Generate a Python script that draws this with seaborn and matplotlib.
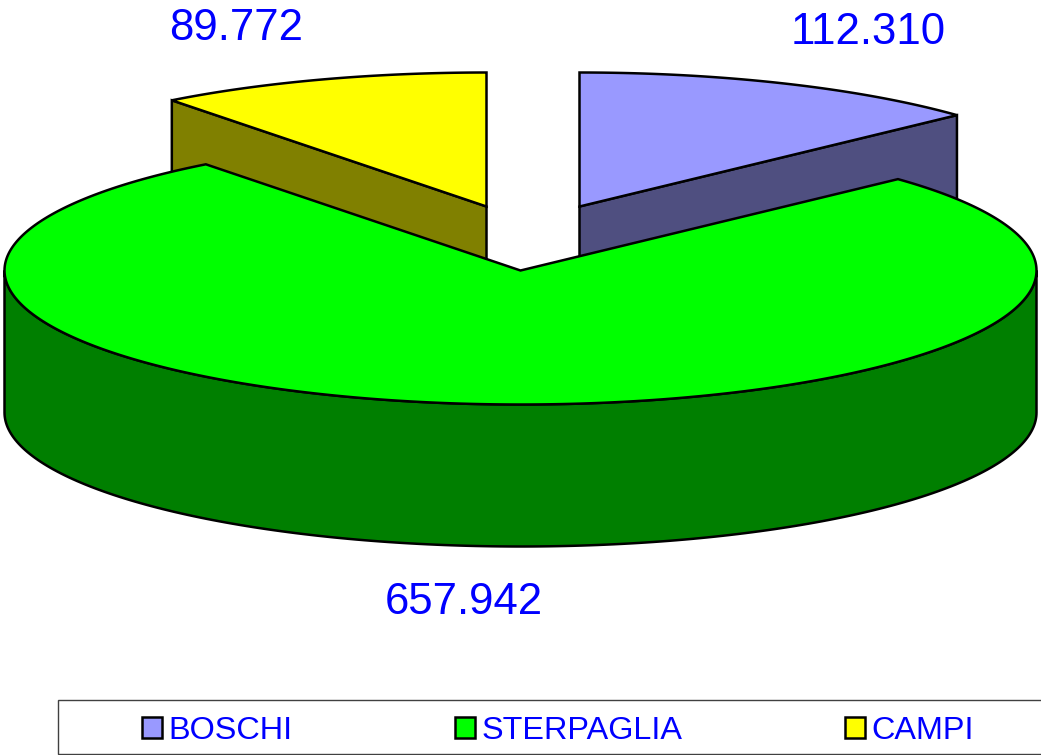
import numpy as np
import seaborn as sns
import matplotlib.pyplot as plt
from matplotlib.patches import Polygon, Rectangle

labels = ["BOSCHI", "STERPAGLIA", "CAMPI"]
values = [112.310, 657.942, 89.772]
top_colors = ["#9999FF", "#00FF00", "#FFFF00"]
side_colors = ["#4F4F80", "#007F00", "#808000"]

# pie geometry in image pixels
centers = [(579.5, 206.5), (520.5, 270.5), (486.5, 206.5)]
label_pos = [(868, 32), (464, 602), (236, 28)]
rx, ry = 516, 134
depth = 142
line = 1.8


def arc(center, a0, a1, n=200):
    # angles clockwise from 12 o'clock, tilted disc
    t = np.radians(np.linspace(a0, a1, n))
    return np.column_stack([center[0] + rx * np.sin(t), center[1] - ry * np.cos(t)])


def shift(pts):
    return pts + np.array([0, depth])


sns.set_style("white")
plt.rcParams["font.family"] = ["Liberation Sans"]
palette = sns.color_palette(top_colors)

fig = plt.figure(figsize=(10.41, 7.55), dpi=100)
ax = fig.add_axes([0, 0, 1, 1])
ax.set_xlim(0, 1041)
ax.set_ylim(755, 0)
ax.axis("off")

ends = np.cumsum(values) / np.sum(values) * 360
starts = np.concatenate([[0], ends[:-1]])

# back slices first, the big one covers them
for i in [0, 2]:
    c = np.array(centers[i], dtype=float)
    cut = ends[i] if i == 0 else starts[i]
    edge = arc(c, cut, cut, 1)[0]
    side = np.array([c, edge, shift(edge[None])[0], shift(c[None])[0]])
    ax.add_patch(Polygon(side, closed=True, fc=side_colors[i], ec="black", lw=line, zorder=2))
    top = np.vstack([c, arc(c, starts[i], ends[i])])
    ax.add_patch(Polygon(top, closed=True, fc=palette[i], ec="black", lw=line, zorder=3))

c = np.array(centers[1], dtype=float)
front = arc(c, 90, 270)
rim = np.vstack([front, shift(front)[::-1]])
ax.add_patch(Polygon(rim, closed=True, fc=side_colors[1], ec="black", lw=line, zorder=4))
top = np.vstack([c, arc(c, starts[1], ends[1], 400)])
ax.add_patch(Polygon(top, closed=True, fc=palette[1], ec="black", lw=line, zorder=5))

for v, (x, y) in zip(values, label_pos):
    ax.text(x, y, f"{v:.3f}", color="#0000FF", fontsize=31.5, ha="center", va="center", zorder=6)

# legend frame runs off the right side of the picture
ax.add_patch(Rectangle((58, 700), 999, 54, fc="white", ec="#404040", lw=1, zorder=1))
handles = [Rectangle((0, 0), 1, 1, fc=col, ec="black", lw=line) for col in palette]
ax.legend(
    handles, labels, ncol=3, frameon=False, fontsize=23.3, labelcolor="#0000FF",
    loc="center left", bbox_to_anchor=(142 / 1041, 1 - 731 / 755), borderpad=0, borderaxespad=0,
    handlelength=0.62, handleheight=0.62, handletextpad=0.2, columnspacing=5.02,
)

fig.savefig("out.png", dpi=100)
